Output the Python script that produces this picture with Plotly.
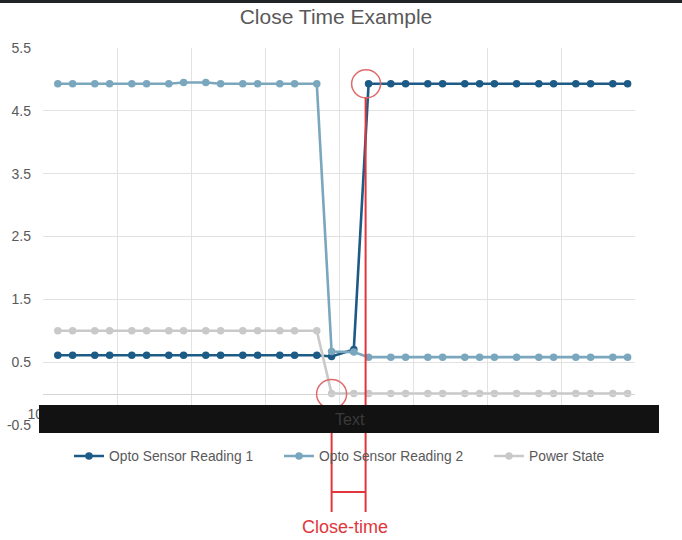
import plotly.graph_objects as go

# ---------------- data ----------------
time_ms = [1020, 1040, 1070, 1090, 1120, 1140, 1170, 1190, 1220, 1240, 1270, 1290,
           1320, 1340, 1370, 1390, 1420, 1440, 1470, 1490, 1520, 1540, 1570, 1590,
           1610, 1640, 1670, 1690, 1720, 1740, 1770, 1790]

opto_1 = [0.61, 0.61, 0.61, 0.61, 0.61, 0.61, 0.61, 0.61, 0.61, 0.61, 0.61, 0.61,
          0.61, 0.61, 0.61, 0.59, 0.70, 4.93, 4.93, 4.93, 4.93, 4.93, 4.93, 4.93,
          4.93, 4.93, 4.93, 4.93, 4.93, 4.93, 4.93, 4.93]

opto_2 = [4.93, 4.93, 4.93, 4.93, 4.93, 4.93, 4.93, 4.95, 4.95, 4.93, 4.93, 4.93,
          4.93, 4.93, 4.93, 0.67, 0.66, 0.58, 0.58, 0.58, 0.58, 0.58, 0.58, 0.58,
          0.58, 0.58, 0.58, 0.58, 0.58, 0.58, 0.58, 0.58]

power_state = [1.0, 1.0, 1.0, 1.0, 1.0, 1.0, 1.0, 1.0, 1.0, 1.0, 1.0, 1.0,
               1.0, 1.0, 1.0, 0.0, 0.0, 0.0, 0.0, 0.0, 0.0, 0.0, 0.0, 0.0,
               0.0, 0.0, 0.0, 0.0, 0.0, 0.0, 0.0, 0.0]

series_names = ["Opto Sensor Reading 1", "Opto Sensor Reading 2", "Power State"]

# x tick labels are hidden under the redaction bar; only the first one peeks out
x_tick_vals = [1000, 1100, 1200, 1300, 1400, 1500, 1600, 1700, 1800]
x_tick_text = ["1000", "", "", "", "", "", "", "", ""]
y_tick_vals = [-0.5, 0.5, 1.5, 2.5, 3.5, 4.5, 5.5]
y_tick_text = ["-0.5", "0.5", "1.5", "2.5", "3.5", "4.5", "5.5"]

close_start = time_ms[15]   # power switched off
close_end = time_ms[17]     # sensor 1 reaches high level

# ---------------- layout geometry ----------------
W, H = 682, 540
ML, MR, MT, MB = 43, 47, 48, 115
PW, PH = W - ML - MR, H - MT - MB
X_RANGE = [1000, 1800]
Y_RANGE = [-0.5, 5.5]


def xp(v):
    return (v - X_RANGE[0]) / (X_RANGE[1] - X_RANGE[0])


def yp(v):
    return (v - Y_RANGE[0]) / (Y_RANGE[1] - Y_RANGE[0])


def px_x(p):
    return (p - ML) / PW


def px_y(p):
    return (H - MB - p) / PH


FONT = "Liberation Sans, Arial, sans-serif"
TXT = "#595959"
C1, C2, C3 = "#1d5b87", "#7aa7bd", "#c9c9c9"
RED = "#e0363c"

fig = go.Figure()
legend_ids = ["legend", "legend2", "legend3"]
for name, vals, col, lg in zip(series_names, [opto_1, opto_2, power_state],
                               [C1, C2, C3], legend_ids):
    fig.add_trace(go.Scatter(
        x=time_ms, y=vals, name=name, mode="lines+markers",
        line=dict(color=col, width=2.6),
        marker=dict(color=col, size=7.5),
        legend=lg,
    ))

shapes = []
# top dark strip of the screenshot
shapes.append(dict(type="rect", xref="paper", yref="paper",
                   x0=px_x(-5), x1=px_x(W + 5), y0=px_y(3), y1=px_y(-5),
                   fillcolor="#222325", line=dict(width=0), layer="above"))
# red circles
shapes.append(dict(type="circle", xref="paper", yref="paper",
                   xsizemode="pixel", ysizemode="pixel",
                   xanchor=xp(close_end), yanchor=yp(opto_1[17]),
                   x0=-17, x1=12, y0=-14, y1=14,
                   line=dict(color="#e06a6a", width=1.5), layer="above"))
shapes.append(dict(type="circle", xref="paper", yref="paper",
                   xsizemode="pixel", ysizemode="pixel",
                   xanchor=xp(close_start), yanchor=yp(power_state[15]),
                   x0=-15, x1=15, y0=-15, y1=14,
                   line=dict(color="#e06a6a", width=1.5), layer="above"))
# red vertical lines and horizontal bracket
shapes.append(dict(type="line", xref="paper", yref="paper",
                   xsizemode="pixel", xanchor=xp(close_end), x0=-3, x1=-3,
                   y0=px_y(98), y1=px_y(512),
                   line=dict(color=RED, width=2), layer="above"))
shapes.append(dict(type="line", xref="paper", yref="paper",
                   xsizemode="pixel", xanchor=xp(close_start), x0=0, x1=0,
                   y0=px_y(407), y1=px_y(512),
                   line=dict(color=RED, width=2), layer="above"))
shapes.append(dict(type="line", xref="paper", yref="paper",
                   xsizemode="pixel", xanchor=xp(close_start), x0=0, x1=34,
                   y0=px_y(492), y1=px_y(492),
                   line=dict(color=RED, width=2), layer="above"))
# black redaction bar over the x-axis labels
shapes.append(dict(type="rect", xref="paper", yref="paper",
                   x0=px_x(39), x1=px_x(659), y0=px_y(433), y1=px_y(405),
                   fillcolor="#121212", line=dict(width=0), layer="above"))

annotations = [
    dict(text="Text", xref="paper", yref="paper", x=px_x(350), y=px_y(419),
         xanchor="center", yanchor="middle", showarrow=False,
         font=dict(family=FONT, size=16, color="#3a3a3a")),
    dict(text="Close-time", xref="paper", yref="paper", x=px_x(345), y=px_y(527),
         xanchor="center", yanchor="middle", showarrow=False,
         font=dict(family=FONT, size=18, color=RED)),
]


def legend_at(px_left):
    return dict(orientation="h", x=px_x(px_left), xanchor="left",
                y=px_y(456), yanchor="middle",
                font=dict(family=FONT, size=13.8, color=TXT),
                bgcolor="rgba(0,0,0,0)")


fig.update_layout(
    width=W, height=H,
    margin=dict(l=ML, r=MR, t=MT, b=MB, autoexpand=False),
    paper_bgcolor="white", plot_bgcolor="white",
    font=dict(family=FONT, color=TXT),
    hovermode=False,
    title=dict(text="Close Time Example", x=336 / W, xanchor="center",
               y=(H - 17) / H, yanchor="middle", yref="container",
               font=dict(family=FONT, size=21, color=TXT)),
    showlegend=True,
    legend=legend_at(69),
    legend2=legend_at(279),
    legend3=legend_at(489),
    shapes=shapes,
    annotations=annotations,
)

fig.update_xaxes(range=X_RANGE, tickvals=x_tick_vals, ticktext=x_tick_text,
                 anchor="free", position=yp(0),
                 showline=True, linecolor="#d4d4d4", linewidth=1,
                 showgrid=True, gridcolor="#e2e2e2", gridwidth=1, zeroline=False,
                 ticks="", ticklabelstandoff=8,
                 tickfont=dict(family=FONT, size=14, color=TXT))
fig.update_yaxes(range=Y_RANGE, tickvals=y_tick_vals, ticktext=y_tick_text,
                 showgrid=True, gridcolor="#e2e2e2", gridwidth=1, zeroline=False,
                 showline=False, ticks="", ticklabelstandoff=11,
                 tickfont=dict(family=FONT, size=14, color=TXT))

fig.write_html("out.html", config={"displayModeBar": False},
               post_script="document.body.style.margin='0px';")
